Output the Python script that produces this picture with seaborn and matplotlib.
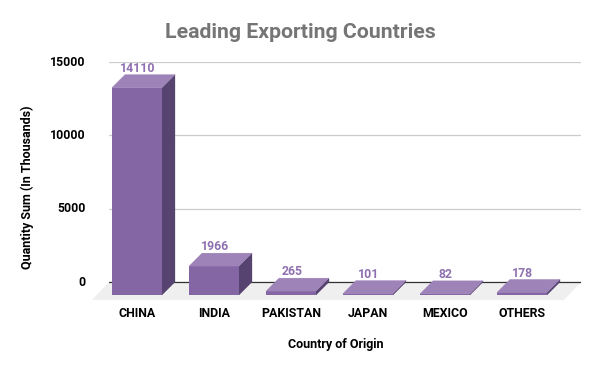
import matplotlib
matplotlib.use("Agg")
import matplotlib.pyplot as plt
import pandas as pd
import seaborn as sns
from matplotlib.patches import Polygon
from matplotlib.transforms import ScaledTranslation

countries = ["CHINA", "INDIA", "PAKISTAN", "JAPAN", "MEXICO", "OTHERS"]
quantity = [14110, 1966, 265, 101, 82, 178]
y_ticks = [0, 5000, 10000, 15000]

# 3d look: front face is pushed down/left from the value plane
depth_x = 13 / 77
depth_y = 13 * 5000 / 73.5

FRONT = "#8566A5"
SIDE = "#56436F"
TOP = "#9E83B8"
LABEL = "#8E6FB0"

sns.set_theme(style="white")
plt.rcParams["font.family"] = ["Roboto", "DejaVu Sans"]

W, H = 600, 371
fig = plt.figure(figsize=(W / 100, H / 100), dpi=100)
ax = fig.add_axes([109 / W, (H - 300) / H, 472 / W, 238.5 / H])

df = pd.DataFrame({"country": countries, "quantity": quantity})
sns.barplot(data=df, x="country", y="quantity", color=FRONT, saturation=1,
            width=50 / 77, ax=ax, zorder=4, linewidth=0)

ax.set_xlim(-28 / 77, 444 / 77)
ax.set_ylim(-18 / 73.5 * 5000, 15000)

# floor under the bars
ax.add_patch(Polygon([(-45 / 77, -18 / 73.5 * 5000), (-28 / 77, 0),
                      (444 / 77, 0), (427 / 77, -18 / 73.5 * 5000)],
                     closed=True, facecolor="#EFEFEF", edgecolor="none",
                     zorder=1, clip_on=False))

for bar, value in zip(ax.patches[:len(quantity)], quantity):
    x0 = bar.get_x()
    x1 = x0 + bar.get_width()
    # front face sits below the value plane
    bar.set_y(-depth_y)
    bar.set_height(value)
    bar.set_clip_on(False)
    bar.set_snap(False)  # snapping left a white seam under the top face
    top = value - depth_y
    ax.add_patch(Polygon([(x1, -depth_y), (x1 + depth_x, 0), (x1 + depth_x, value), (x1, top)],
                         closed=True, facecolor=SIDE, edgecolor=SIDE, linewidth=0.2,
                         zorder=3.9, clip_on=False))
    ax.add_patch(Polygon([(x0, top), (x0 + depth_x, value), (x1 + depth_x, value), (x1, top)],
                         closed=True, facecolor=TOP, edgecolor=TOP, linewidth=0.2,
                         zorder=3.9, clip_on=False))
    ax.annotate(str(value), ((x0 + x1) / 2, value), xytext=(0.5, 4.4), textcoords="offset points",
                ha="center", va="center", color=LABEL, fontsize=8.8, fontweight="bold", zorder=5)

ax.set_yticks(y_ticks)
ax.yaxis.grid(True, color="#CCCCCC", linewidth=0.9)
ax.set_axisbelow(True)
ax.axhline(0, color="#333333", linewidth=0.9, zorder=2)
sns.despine(ax=ax, left=True, bottom=True)
ax.tick_params(axis="y", length=0, pad=17, labelsize=8.8, labelcolor="black")
ax.tick_params(axis="x", length=0, pad=5, labelsize=8.9, labelcolor="black")
for t in ax.get_xticklabels() + ax.get_yticklabels():
    t.set_fontweight("bold")
# y tick labels sit a pixel above their gridlines
nudge = ScaledTranslation(0, 1 / 100, fig.dpi_scale_trans)
for t in ax.get_yticklabels():
    t.set_transform(t.get_transform() + nudge)

ax.set_xlabel("Country of Origin", fontsize=9, fontweight="bold", color="black")
ax.set_ylabel("Quantity Sum (In Thousands)", fontsize=9, fontweight="bold", color="black")
ax.xaxis.set_label_coords(227 / 472, -38 / 238.5)
ax.yaxis.set_label_coords(-75 / 472, 113 / 238.5)

fig.text(300.5 / W, (H - 32) / H, "Leading Exporting Countries", ha="center", va="center",
         fontsize=15.3, fontweight="bold", color="#757575")

fig.savefig("out.png", dpi=100, facecolor="white")
